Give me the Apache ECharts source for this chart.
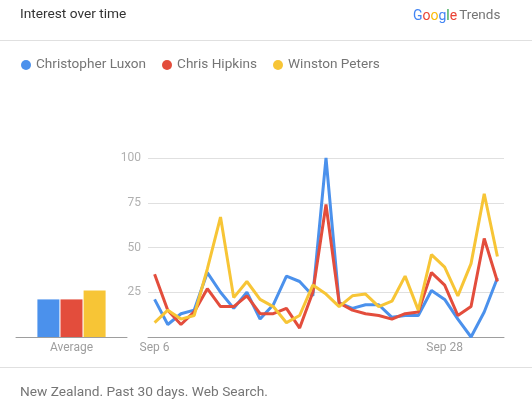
<!DOCTYPE html>
<html>
<head>
<meta charset="utf-8">
<script src="https://cdn.jsdelivr.net/npm/echarts@6/dist/echarts.min.js"></script>
<style>
html,body{margin:0;padding:0;background:#fff;}
#chart{width:532px;height:407px;}
</style>
</head>
<body>
<div id="chart"></div>
<script>
var seriesNames = ['Christopher Luxon', 'Chris Hipkins', 'Winston Peters'];
var dates = ['Sep 6','Sep 7','Sep 8','Sep 9','Sep 10','Sep 11','Sep 12','Sep 13','Sep 14','Sep 15',
  'Sep 16','Sep 17','Sep 18','Sep 19','Sep 20','Sep 21','Sep 22','Sep 23','Sep 24','Sep 25',
  'Sep 26','Sep 27','Sep 28','Sep 29','Sep 30','Oct 1','Oct 2'];
var shownDateLabels = ['Sep 6', 'Sep 28'];
var luxon =   [21, 7, 13, 15, 36, 25, 16, 25, 10, 18, 34, 31, 23, 100, 19, 16, 18, 18, 11, 12, 12, 26, 21, 10, 0, 14, 33];
var hipkins = [35, 15, 7, 14, 27, 17, 17, 23, 13, 13, 16, 5, 25, 74, 19, 15, 13, 12, 10, 13, 14, 36, 29, 12, 17, 55, 31];
var peters =  [8, 15, 10, 12, 38, 67, 22, 31, 21, 17, 8, 12, 29, 24, 17, 23, 24, 17, 20, 34, 15, 46, 39, 23, 41, 80, 45];
var averages = [21, 21, 26];
var avgCategory = ['Average'];
var yTicks = [0, 25, 50, 75, 100];

var colors = ['#4b91ec', '#e34d3c', '#f7c536'];
var font = 'Roboto, "Noto Sans", sans-serif';
var lineData = [luxon, hipkins, peters];

var chart = echarts.init(document.getElementById('chart'), null, {renderer: 'canvas'});

var series = [];
for (var i = 0; i < 3; i++) {
  series.push({
    name: seriesNames[i], type: 'line', xAxisIndex: 0, yAxisIndex: 0,
    data: lineData[i], symbol: 'none', smooth: false,
    lineStyle: {width: 3, color: colors[i]}, itemStyle: {color: colors[i]},
    z: 3 + i, animation: false
  });
}
for (var j = 0; j < 3; j++) {
  series.push({
    name: seriesNames[j], type: 'bar', xAxisIndex: 1, yAxisIndex: 1,
    data: [averages[j]], barWidth: 22, barGap: '5%',
    itemStyle: {color: colors[j]}, animation: false
  });
}

var option = {
  animation: false,
  textStyle: {fontFamily: font},
  title: {
    text: 'Interest over time', left: 20, top: 8, padding: 0,
    textStyle: {fontSize: 13.7, fontWeight: 'normal', color: '#333333', fontFamily: font}
  },
  legend: {
    data: seriesNames, left: 16, top: 53, icon: 'circle',
    itemWidth: 10, itemHeight: 10, itemGap: 16,
    textStyle: {fontSize: 13.6, color: '#757575', fontFamily: font, padding: [0, 0, 0, 0]},
    selectedMode: false
  },
  grid: [
    {left: 148, right: 28, top: 158, bottom: 70},
    {left: 16, width: 111, top: 158, bottom: 70}
  ],
  xAxis: [
    {
      type: 'category', gridIndex: 0, data: dates, boundaryGap: true,
      axisTick: {show: false},
      axisLine: {lineStyle: {color: '#9e9e9e', width: 1}},
      axisLabel: {
        color: '#9e9e9e', fontSize: 12, margin: 5, fontFamily: font,
        interval: function (idx, val) { return shownDateLabels.indexOf(val) >= 0; }
      },
      splitLine: {show: false}
    },
    {
      type: 'category', gridIndex: 1, data: avgCategory,
      axisTick: {show: false},
      axisLine: {lineStyle: {color: '#9e9e9e', width: 1}},
      axisLabel: {color: '#9e9e9e', fontSize: 12, margin: 5, fontFamily: font}
    }
  ],
  yAxis: [
    {
      type: 'value', gridIndex: 0, min: yTicks[0], max: yTicks[yTicks.length - 1], interval: 25,
      axisLine: {show: false}, axisTick: {show: false},
      axisLabel: {
        color: '#b0b0b0', fontSize: 12, margin: 7, fontFamily: font,
        formatter: function (v) { return v === 0 ? '' : String(v); }
      },
      splitLine: {lineStyle: {color: '#e0e0e0', width: 1}}
    },
    {
      type: 'value', gridIndex: 1, min: 0, max: 100, interval: 25, show: false
    }
  ],
  graphic: [
    {type: 'line', shape: {x1: 0, y1: 40.5, x2: 532, y2: 40.5}, style: {stroke: '#e0e0e0', lineWidth: 1}},
    {type: 'line', shape: {x1: 0, y1: 367.5, x2: 532, y2: 367.5}, style: {stroke: '#e0e0e0', lineWidth: 1}},
    {
      type: 'text', left: 413, top: 9,
      style: {
        text: '{b|G}{r|o}{y|o}{b|g}{g|l}{r|e}{s| }{t|Trends}',
        rich: {
          b: {fill: '#4285f4', fontSize: 14, fontFamily: font},
          r: {fill: '#ea4335', fontSize: 14, fontFamily: font},
          y: {fill: '#fbbc05', fontSize: 14, fontFamily: font},
          g: {fill: '#34a853', fontSize: 14, fontFamily: font},
          s: {fontSize: 8, fontFamily: font},
          t: {fill: '#757575', fontSize: 13.5, fontFamily: font}
        }
      }
    },
    {
      type: 'text', left: 20, top: 386,
      style: {text: 'New Zealand. Past 30 days. Web Search.', fill: '#757575', fontSize: 13.7, fontFamily: font}
    }
  ],
  series: series
};
chart.setOption(option);
</script>
</body>
</html>
